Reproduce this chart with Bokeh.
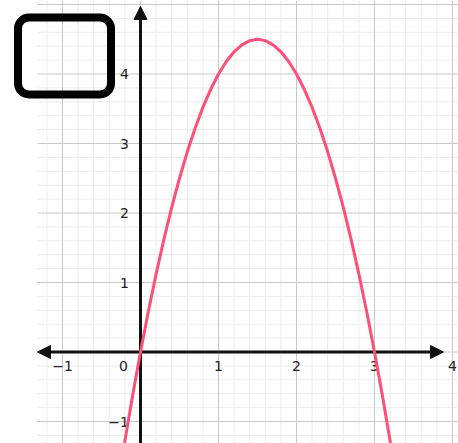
from bokeh.plotting import figure
from bokeh.models import Arrow, NormalHead, BoxAnnotation, Range1d
from bokeh.core.properties import value
from bokeh.embed import file_html
from bokeh.resources import INLINE

# ---- data ----
curve_x = [-0.3, -0.2, -0.1, 0.0, 0.1, 0.2, 0.3, 0.4, 0.5, 0.6, 0.7, 0.8, 0.9,
           1.0, 1.1, 1.2, 1.3, 1.4, 1.5, 1.6, 1.7, 1.8, 1.9, 2.0, 2.1, 2.2,
           2.3, 2.4, 2.5, 2.6, 2.7, 2.8, 2.9, 3.0, 3.1, 3.2, 3.3]
curve_y = [-1.98, -1.28, -0.62, 0.0, 0.58, 1.12, 1.62, 2.08, 2.5, 2.88, 3.22,
           3.52, 3.78, 4.0, 4.18, 4.32, 4.42, 4.48, 4.5, 4.48, 4.42, 4.32,
           4.18, 4.0, 3.78, 3.52, 3.22, 2.88, 2.5, 2.08, 1.62, 1.12, 0.58,
           0.0, -0.62, -1.28, -1.98]
x_tick_values = [-1, 1, 2, 3, 4]
x_tick_labels = ["\u22121", "1", "2", "3", "4"]
y_tick_values = [-1, 1, 2, 3, 4]
y_tick_labels = ["\u22121", "1", "2", "3", "4"]
origin_label = ["0"]

# ---- layout ----
W, H = 458, 443
X0_PX, Y0_PX = 140.0, 351.5      # origin position inside canvas
PX_X, PX_Y = 78.0, 69.5           # pixels per unit
x_start = -X0_PX / PX_X
x_end = (W - X0_PX) / PX_X
y_end = Y0_PX / PX_Y
y_start = -(H - Y0_PX) / PX_Y
grid_left = -(X0_PX - 37) / PX_X

p = figure(width=W, height=H, x_range=Range1d(x_start, x_end),
           y_range=Range1d(y_start, y_end), output_backend="svg",
           toolbar_location=None, min_border=0, outline_line_color=None,
           x_axis_type=None, y_axis_type=None)
p.background_fill_color = "white"
p.border_fill_color = "white"

# grid
minor_v = [round(k * 0.2, 1) for k in range(-6, 21) if k % 5 != 0]
major_v = [k for k in range(-1, 5)]
minor_h = [round(k * 0.2, 1) for k in range(-6, 26) if k % 5 != 0]
major_h = [k for k in range(-1, 6)]

p.segment(x0=minor_v, y0=[y_start] * len(minor_v), x1=minor_v, y1=[y_end] * len(minor_v),
          line_color="#ebebeb", line_width=1)
p.segment(x0=[grid_left] * len(minor_h), y0=minor_h, x1=[x_end] * len(minor_h), y1=minor_h,
          line_color="#ebebeb", line_width=1)
p.segment(x0=major_v, y0=[y_start] * len(major_v), x1=major_v, y1=[y_end] * len(major_v),
          line_color="#c8c8c8", line_width=1)
p.segment(x0=[grid_left] * len(major_h), y0=major_h, x1=[x_end] * len(major_h), y1=major_h,
          line_color="#c8c8c8", line_width=1)

# axes with arrows
axis_col = "#111111"
p.add_layout(Arrow(start=NormalHead(size=13, fill_color=axis_col, line_color=axis_col),
                   end=NormalHead(size=13, fill_color=axis_col, line_color=axis_col),
                   x_start=grid_left, y_start=0, x_end=(443 - 140) / PX_X, y_end=0,
                   line_color=axis_col, line_width=3))
p.add_layout(Arrow(end=NormalHead(size=13, fill_color=axis_col, line_color=axis_col),
                   x_start=0, y_start=y_start - 1, x_end=0, y_end=(351.5 - 6) / PX_Y,
                   line_color=axis_col, line_width=3))

# curve
p.line(curve_x, curve_y, line_color="#ff4f78", line_width=3, level="overlay")

# tick labels
font = value("DejaVu Sans")
lab_y = -13.5 / PX_Y
p.text(x=x_tick_values, y=[lab_y] * len(x_tick_values), text=x_tick_labels,
       text_align="center", text_baseline="middle", text_font=font,
       text_font_size="14px", text_color="#222222")
p.text(x=[-11.5 / PX_X] * len(y_tick_values), y=y_tick_values, text=y_tick_labels,
       text_align="right", text_baseline="middle", text_font=font,
       text_font_size="14px", text_color="#222222")
p.text(x=[-17 / PX_X], y=[lab_y], text=origin_label,
       text_align="center", text_baseline="middle", text_font=font,
       text_font_size="14px", text_color="#222222")

# rounded black box (top-left)
p.add_layout(BoxAnnotation(left=(17.5 - 140) / PX_X, right=(110.5 - 140) / PX_X,
                           top=(351.5 - 17) / PX_Y, bottom=(351.5 - 94) / PX_Y,
                           fill_color=None, line_color="black", line_width=8,
                           line_alpha=1.0, border_radius=11))

open("out.html", "w").write(file_html(p, INLINE))
